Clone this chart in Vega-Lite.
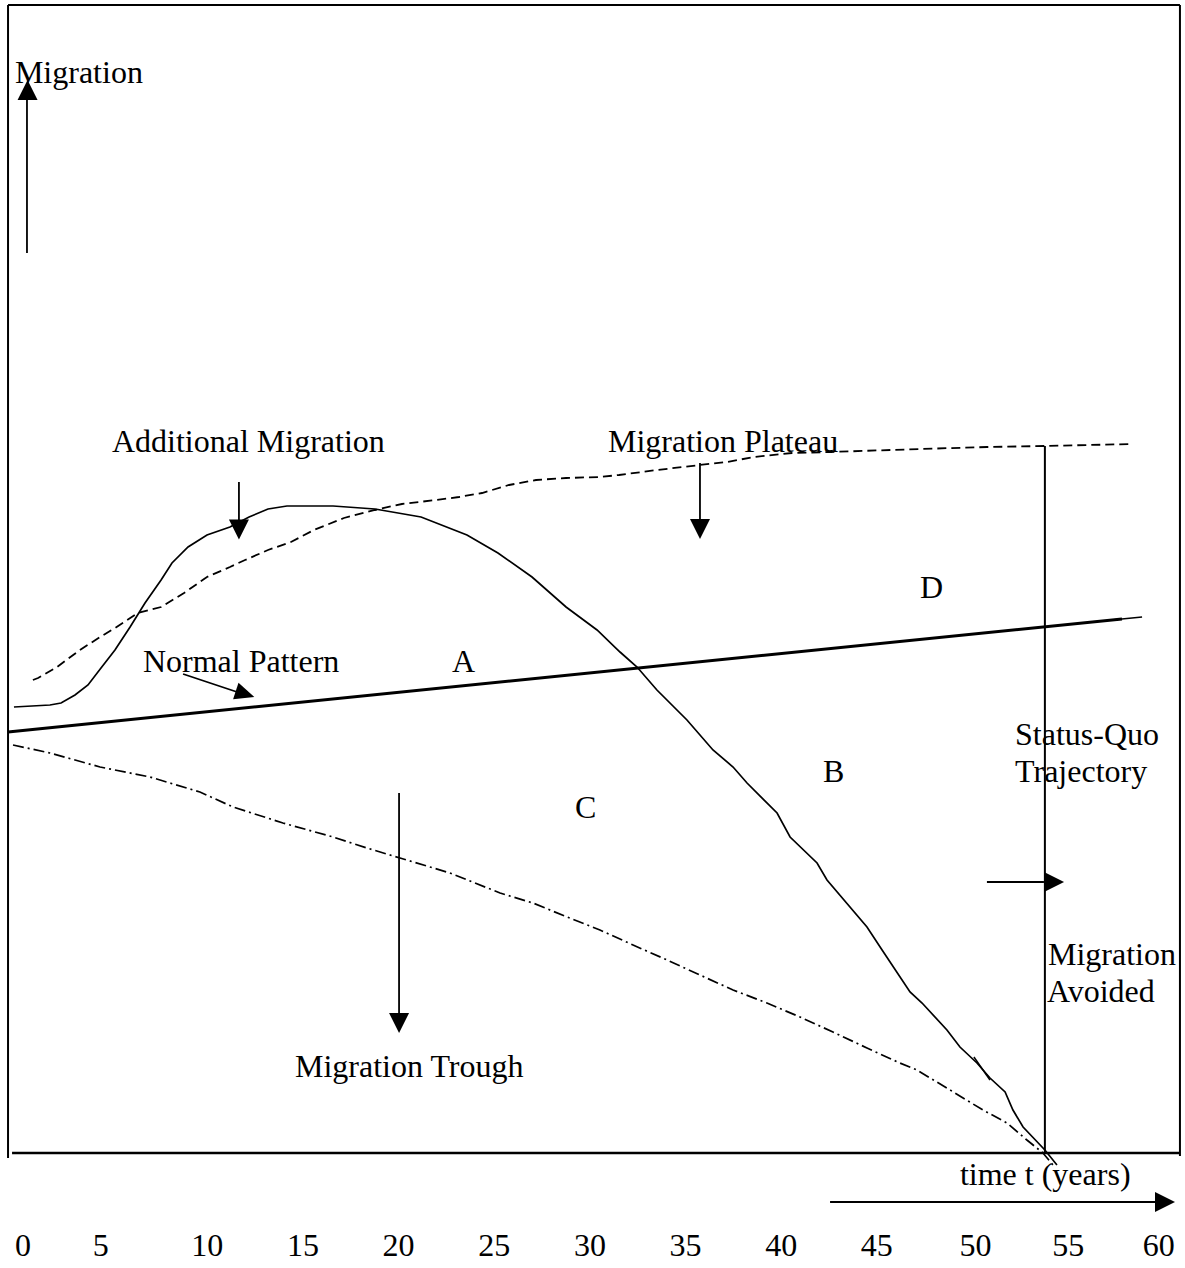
{
  "$schema": "https://vega.github.io/schema/vega-lite/v6.json",
  "width": 1185,
  "height": 1268,
  "padding": 0,
  "autosize": {"type": "none"},
  "background": "white",
  "config": {"view": {"stroke": null}},
  "datasets": {
    "frame": [
      {"part": "left border", "x": -0.39, "y": 114.8, "x2": -0.39, "y2": -0.5},
      {"part": "top border", "x": -0.39, "y": 114.8, "x2": 60.87, "y2": 114.8},
      {"part": "right border", "x": 60.87, "y": 114.8, "x2": 60.87, "y2": -0.3},
      {"part": "status-quo trajectory", "x": 53.81, "y": 70.7, "x2": 53.81, "y2": 0}
    ],
    "baseline": [
      {"part": "time axis", "x": -0.18, "y": 0, "x2": 60.87, "y2": 0}
    ],
    "shafts": [
      {"arrow": "Migration", "x": 0.6, "y": 90.0, "x2": 0.6, "y2": 105.4},
      {"arrow": "Additional Migration", "x": 11.68, "y": 67.1, "x2": 11.68, "y2": 63.1},
      {"arrow": "Migration Plateau", "x": 35.78, "y": 69.0, "x2": 35.78, "y2": 63.1},
      {"arrow": "Migration Trough", "x": 20.05, "y": 36.0, "x2": 20.05, "y2": 13.8},
      {"arrow": "Normal Pattern", "x": 8.76, "y": 47.9, "x2": 11.9, "y2": 45.9},
      {"arrow": "Migration Avoided", "x": 50.78, "y": 27.1, "x2": 53.76, "y2": 27.1},
      {"arrow": "time", "x": 42.58, "y": -4.9, "x2": 59.6, "y2": -4.9}
    ],
    "heads": [
      {"arrow": "Migration", "dir": "up", "x": 0.63, "y": 106.3},
      {"arrow": "Additional Migration", "dir": "down", "x": 11.68, "y": 62.35},
      {"arrow": "Migration Plateau", "dir": "down", "x": 35.78, "y": 62.4},
      {"arrow": "Migration Trough", "dir": "down", "x": 20.05, "y": 13.0},
      {"arrow": "Migration Avoided", "dir": "right", "x": 54.29, "y": 27.1},
      {"arrow": "time", "dir": "right", "x": 60.09, "y": -4.9}
    ],
    "diag": [
      {"arrow": "Normal Pattern", "x": 12.0, "y": 45.9}
    ],
    "labels": [
      {"text": "Migration", "x": -0.03, "y": 107.0},
      {"text": "Additional Migration", "x": 5.04, "y": 70.1},
      {"text": "Migration Plateau", "x": 30.97, "y": 70.1},
      {"text": "D", "x": 47.28, "y": 55.5},
      {"text": "Normal Pattern", "x": 6.66, "y": 48.1},
      {"text": "A", "x": 22.82, "y": 48.1},
      {"text": "Status-Quo", "x": 52.25, "y": 40.8},
      {"text": "Trajectory", "x": 52.25, "y": 37.1},
      {"text": "B", "x": 42.21, "y": 37.1},
      {"text": "C", "x": 29.25, "y": 33.5},
      {"text": "Migration", "x": 53.97, "y": 18.8},
      {"text": "Avoided", "x": 53.92, "y": 15.1},
      {"text": "Migration Trough", "x": 14.61, "y": 7.6},
      {"text": "time t (years)", "x": 49.37, "y": -3.2}
    ],
    "curves": [
      {"curve": "normal", "x": -0.39, "y": 42.1},
      {"curve": "normal", "x": 57.84, "y": 53.4},
      {"curve": "normal end", "x": 57.3, "y": 53.3},
      {"curve": "normal end", "x": 58.89, "y": 53.6},

      {"curve": "status quo", "x": -0.08, "y": 44.6},
      {"curve": "status quo", "x": 1.8, "y": 44.8},
      {"curve": "status quo", "x": 2.38, "y": 45.0},
      {"curve": "status quo", "x": 3.11, "y": 45.8},
      {"curve": "status quo", "x": 3.79, "y": 46.8},
      {"curve": "status quo", "x": 4.47, "y": 48.5},
      {"curve": "status quo", "x": 5.2, "y": 50.3},
      {"curve": "status quo", "x": 5.99, "y": 52.6},
      {"curve": "status quo", "x": 6.77, "y": 55.0},
      {"curve": "status quo", "x": 7.61, "y": 57.3},
      {"curve": "status quo", "x": 8.18, "y": 59.0},
      {"curve": "status quo", "x": 9.02, "y": 60.6},
      {"curve": "status quo", "x": 10.01, "y": 61.8},
      {"curve": "status quo", "x": 11.21, "y": 62.6},
      {"curve": "status quo", "x": 12.21, "y": 63.6},
      {"curve": "status quo", "x": 13.2, "y": 64.4},
      {"curve": "status quo", "x": 14.19, "y": 64.7},
      {"curve": "status quo", "x": 16.6, "y": 64.7},
      {"curve": "status quo", "x": 18.79, "y": 64.4},
      {"curve": "status quo", "x": 21.2, "y": 63.6},
      {"curve": "status quo", "x": 23.6, "y": 61.8},
      {"curve": "status quo", "x": 25.22, "y": 60.0},
      {"curve": "status quo", "x": 27.0, "y": 57.6},
      {"curve": "status quo", "x": 28.78, "y": 54.6},
      {"curve": "status quo", "x": 30.4, "y": 52.3},
      {"curve": "status quo", "x": 31.6, "y": 50.1},
      {"curve": "status quo", "x": 32.49, "y": 48.6},
      {"curve": "status quo", "x": 33.53, "y": 46.3},
      {"curve": "status quo", "x": 35.1, "y": 43.3},
      {"curve": "status quo", "x": 36.46, "y": 40.3},
      {"curve": "status quo", "x": 37.51, "y": 38.6},
      {"curve": "status quo", "x": 38.24, "y": 37.0},
      {"curve": "status quo", "x": 39.81, "y": 34.0},
      {"curve": "status quo", "x": 40.49, "y": 31.6},
      {"curve": "status quo", "x": 41.9, "y": 29.0},
      {"curve": "status quo", "x": 42.42, "y": 27.3},
      {"curve": "status quo", "x": 44.51, "y": 22.6},
      {"curve": "status quo", "x": 45.3, "y": 20.3},
      {"curve": "status quo", "x": 46.76, "y": 16.1},
      {"curve": "status quo", "x": 47.39, "y": 15.0},
      {"curve": "status quo", "x": 48.69, "y": 12.3},
      {"curve": "status quo", "x": 49.37, "y": 10.6},
      {"curve": "status quo", "x": 50.26, "y": 9.0},
      {"curve": "status quo", "x": 50.94, "y": 7.5},
      {"curve": "status quo", "x": 51.73, "y": 6.1},
      {"curve": "status quo", "x": 52.14, "y": 4.3},
      {"curve": "status quo", "x": 52.67, "y": 2.6},
      {"curve": "status quo", "x": 53.81, "y": 0.3},
      {"curve": "status quo", "x": 54.44, "y": -1.2},

      {"curve": "stroke", "x": 50.1, "y": 9.6},
      {"curve": "stroke", "x": 50.94, "y": 7.3},

      {"curve": "plateau", "x": 0.91, "y": 47.3},
      {"curve": "plateau", "x": 1.18, "y": 47.5},
      {"curve": "plateau", "x": 2.17, "y": 48.6},
      {"curve": "plateau", "x": 3.37, "y": 50.3},
      {"curve": "plateau", "x": 4.42, "y": 51.6},
      {"curve": "plateau", "x": 5.2, "y": 52.5},
      {"curve": "plateau", "x": 6.4, "y": 54.0},
      {"curve": "plateau", "x": 7.61, "y": 54.6},
      {"curve": "plateau", "x": 8.81, "y": 56.0},
      {"curve": "plateau", "x": 10.01, "y": 57.6},
      {"curve": "plateau", "x": 11.21, "y": 58.6},
      {"curve": "plateau", "x": 12.0, "y": 59.3},
      {"curve": "plateau", "x": 13.2, "y": 60.3},
      {"curve": "plateau", "x": 14.4, "y": 61.1},
      {"curve": "plateau", "x": 15.6, "y": 62.3},
      {"curve": "plateau", "x": 17.17, "y": 63.5},
      {"curve": "plateau", "x": 18.79, "y": 64.3},
      {"curve": "plateau", "x": 20.2, "y": 64.9},
      {"curve": "plateau", "x": 21.98, "y": 65.3},
      {"curve": "plateau", "x": 23.18, "y": 65.6},
      {"curve": "plateau", "x": 24.39, "y": 66.0},
      {"curve": "plateau", "x": 25.8, "y": 66.8},
      {"curve": "plateau", "x": 27.21, "y": 67.3},
      {"curve": "plateau", "x": 28.78, "y": 67.5},
      {"curve": "plateau", "x": 30.55, "y": 67.6},
      {"curve": "plateau", "x": 31.55, "y": 67.8},
      {"curve": "plateau", "x": 33.53, "y": 68.3},
      {"curve": "plateau", "x": 35.78, "y": 68.8},
      {"curve": "plateau", "x": 37.19, "y": 69.1},
      {"curve": "plateau", "x": 38.6, "y": 69.6},
      {"curve": "plateau", "x": 40.59, "y": 70.0},
      {"curve": "plateau", "x": 42.63, "y": 70.1},
      {"curve": "plateau", "x": 47.28, "y": 70.4},
      {"curve": "plateau", "x": 50.78, "y": 70.6},
      {"curve": "plateau", "x": 53.81, "y": 70.7},
      {"curve": "plateau", "x": 58.41, "y": 70.9},

      {"curve": "trough", "x": -0.13, "y": 40.8},
      {"curve": "trough", "x": 1.8, "y": 40.0},
      {"curve": "trough", "x": 4.42, "y": 38.6},
      {"curve": "trough", "x": 7.03, "y": 37.6},
      {"curve": "trough", "x": 9.64, "y": 36.1},
      {"curve": "trough", "x": 11.37, "y": 34.6},
      {"curve": "trough", "x": 13.98, "y": 33.0},
      {"curve": "trough", "x": 16.6, "y": 31.6},
      {"curve": "trough", "x": 18.37, "y": 30.5},
      {"curve": "trough", "x": 20.1, "y": 29.5},
      {"curve": "trough", "x": 22.71, "y": 28.0},
      {"curve": "trough", "x": 25.33, "y": 26.0},
      {"curve": "trough", "x": 27.05, "y": 25.0},
      {"curve": "trough", "x": 28.83, "y": 23.6},
      {"curve": "trough", "x": 30.55, "y": 22.3},
      {"curve": "trough", "x": 32.28, "y": 20.8},
      {"curve": "trough", "x": 34.06, "y": 19.3},
      {"curve": "trough", "x": 35.78, "y": 17.8},
      {"curve": "trough", "x": 37.51, "y": 16.3},
      {"curve": "trough", "x": 39.28, "y": 15.0},
      {"curve": "trough", "x": 41.01, "y": 13.6},
      {"curve": "trough", "x": 42.73, "y": 12.1},
      {"curve": "trough", "x": 44.51, "y": 10.5},
      {"curve": "trough", "x": 46.23, "y": 9.0},
      {"curve": "trough", "x": 47.12, "y": 8.3},
      {"curve": "trough", "x": 48.85, "y": 6.3},
      {"curve": "trough", "x": 50.57, "y": 4.3},
      {"curve": "trough", "x": 51.83, "y": 3.0},
      {"curve": "trough", "x": 52.87, "y": 1.3},
      {"curve": "trough", "x": 53.71, "y": 0.0},
      {"curve": "trough", "x": 54.23, "y": -1.2}
    ]
  },
  "encoding": {
    "x": {
      "field": "x",
      "type": "quantitative",
      "scale": {"domain": [-0.81, 61.134], "nice": false, "zero": false},
      "axis": {
        "values": [0, 5, 10, 15, 20, 25, 30, 35, 40, 45, 50, 55, 60],
        "domain": false,
        "ticks": false,
        "tickSize": 0,
        "grid": false,
        "title": null,
        "labelFont": "Liberation Serif",
        "labelFontSize": 32,
        "labelColor": "black",
        "labelBaseline": "alphabetic",
        "labelAlign": "center",
        "labelPadding": 102,
        "labelOffset": {
          "condition": [
            {"test": "datum.value === 0", "value": 7},
            {"test": "datum.value === 5", "value": -11},
            {"test": "datum.value === 50", "value": 3},
            {"test": "datum.value === 60", "value": -5}
          ],
          "value": 0
        },
        "offset": -115,
        "labelFlush": false,
        "labelOverlap": false,
        "labelBound": false
      }
    },
    "y": {
      "field": "y",
      "type": "quantitative",
      "scale": {"domain": [-11.5, 115.3], "nice": false, "zero": false},
      "axis": null
    }
  },
  "layer": [
    {
      "data": {"name": "frame"},
      "mark": {"type": "rule", "color": "black", "strokeWidth": 2},
      "encoding": {"x2": {"field": "x2"}, "y2": {"field": "y2"}}
    },
    {
      "data": {"name": "baseline"},
      "mark": {"type": "rule", "color": "black", "strokeWidth": 2.5},
      "encoding": {"x2": {"field": "x2"}, "y2": {"field": "y2"}}
    },
    {
      "data": {"name": "shafts"},
      "mark": {"type": "rule", "color": "black", "strokeWidth": 1.8},
      "encoding": {"x2": {"field": "x2"}, "y2": {"field": "y2"}}
    },
    {
      "data": {"name": "curves"},
      "transform": [{"filter": "datum.curve === 'normal'"}],
      "mark": {"type": "line", "color": "black", "strokeWidth": 3},
      "encoding": {}
    },
    {
      "data": {"name": "curves"},
      "transform": [{"filter": "datum.curve === 'normal end'"}],
      "mark": {"type": "line", "color": "black", "strokeWidth": 1.5},
      "encoding": {}
    },
    {
      "data": {"name": "curves"},
      "transform": [{"filter": "datum.curve === 'status quo'"}],
      "mark": {"type": "line", "color": "black", "strokeWidth": 1.7},
      "encoding": {}
    },
    {
      "data": {"name": "curves"},
      "transform": [{"filter": "datum.curve === 'stroke'"}],
      "mark": {"type": "line", "color": "black", "strokeWidth": 1.5},
      "encoding": {}
    },
    {
      "data": {"name": "curves"},
      "transform": [{"filter": "datum.curve === 'plateau'"}],
      "mark": {"type": "line", "color": "black", "strokeWidth": 1.8, "strokeDash": [9, 5]},
      "encoding": {}
    },
    {
      "data": {"name": "curves"},
      "transform": [{"filter": "datum.curve === 'trough'"}],
      "mark": {"type": "line", "color": "black", "strokeWidth": 1.7, "strokeDash": [11, 4, 2, 4]},
      "encoding": {}
    },
    {
      "data": {"name": "heads"},
      "mark": {"type": "point", "filled": true, "color": "black", "opacity": 1, "strokeWidth": 0, "size": 400},
      "encoding": {
        "shape": {
          "field": "dir",
          "type": "nominal",
          "scale": {
            "domain": ["up", "down", "right"],
            "range": ["M-1,1L0,-1L1,1Z", "M-1,-1L1,-1L0,1Z", "M-1,-1L1,0L-1,1Z"]
          },
          "legend": null
        }
      }
    },
    {
      "data": {"name": "diag"},
      "mark": {"type": "point", "filled": true, "color": "black", "opacity": 1, "strokeWidth": 0, "size": 380, "angle": 18, "shape": "M-1,-0.9L1,0L-1,0.9Z"},
      "encoding": {}
    },
    {
      "data": {"name": "labels"},
      "mark": {"type": "text", "font": "Liberation Serif", "fontSize": 32, "align": "left", "baseline": "alphabetic", "color": "black"},
      "encoding": {"text": {"field": "text", "type": "nominal"}}
    }
  ]
}
